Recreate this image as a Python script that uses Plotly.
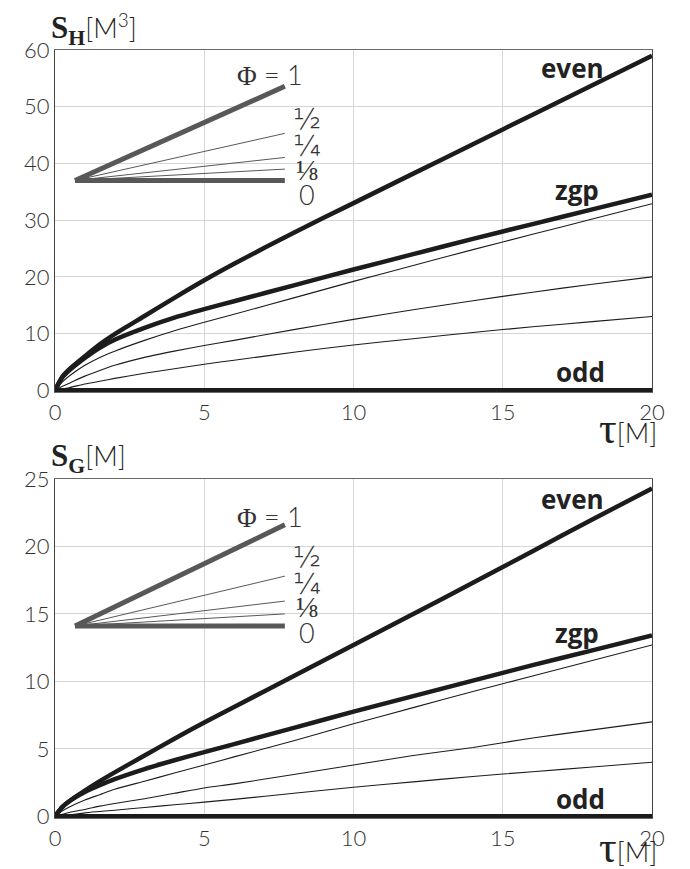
import plotly.graph_objects as go

# ---------------- data ----------------
tau = [0, 0.25, 0.5, 1, 1.5, 2, 3, 4, 5, 6, 8, 10, 12, 14, 16, 18, 20]

SH_even = [0, 2.4, 3.8, 6.0, 8.1, 9.9, 13.1, 16.3, 19.4, 22.3, 27.8, 33.0, 38.2, 43.4, 48.6, 53.8, 59.0]
SH_zgp = [0, 2.3, 3.6, 5.7, 7.5, 8.9, 11.0, 12.8, 14.3, 15.7, 18.5, 21.3, 24.0, 26.7, 29.3, 31.9, 34.5]
SH_half = [0, 1.5, 2.6, 4.4, 5.8, 6.9, 8.8, 10.5, 12.0, 13.4, 16.3, 19.2, 22.0, 24.8, 27.5, 30.2, 32.9]
SH_quarter = [0, 0.7, 1.3, 2.5, 3.5, 4.4, 5.8, 6.9, 7.9, 8.8, 10.7, 12.5, 14.2, 15.8, 17.3, 18.7, 20.0]
SH_eighth = [0, 0.25, 0.5, 1.1, 1.6, 2.1, 3.0, 3.8, 4.6, 5.3, 6.7, 8.0, 9.1, 10.2, 11.2, 12.1, 13.0]
SH_odd = [0, 0, 0, 0, 0, 0, 0, 0, 0, 0, 0, 0, 0, 0, 0, 0, 0]

SG_even = [0, 0.7, 1.15, 1.9, 2.6, 3.25, 4.5, 5.75, 6.95, 8.1, 10.4, 12.7, 15.0, 17.3, 19.65, 22.0, 24.3]
SG_zgp = [0, 0.7, 1.15, 1.8, 2.3, 2.75, 3.5, 4.15, 4.75, 5.35, 6.55, 7.75, 8.9, 10.05, 11.2, 12.3, 13.4]
SG_half = [0, 0.4, 0.7, 1.2, 1.6, 2.0, 2.6, 3.2, 3.8, 4.4, 5.6, 6.85, 8.05, 9.25, 10.4, 11.55, 12.7]
SG_quarter = [0, 0.15, 0.3, 0.5, 0.75, 0.95, 1.3, 1.7, 2.1, 2.4, 3.1, 3.8, 4.5, 5.1, 5.8, 6.4, 7.0]
SG_eighth = [0, 0.05, 0.1, 0.25, 0.35, 0.45, 0.65, 0.85, 1.05, 1.25, 1.7, 2.15, 2.55, 2.95, 3.3, 3.65, 4.0]
SG_odd = [0, 0, 0, 0, 0, 0, 0, 0, 0, 0, 0, 0, 0, 0, 0, 0, 0]

x_ticks = [0, 5, 10, 15, 20]
yH_ticks = [0, 10, 20, 30, 40, 50, 60]
yG_ticks = [0, 5, 10, 15, 20, 25]

# inset legend (Phi key)
phi_labels = ["<span style='font-family:Liberation Serif'>Φ</span> = 1", "½", "¼", "⅛", "0"]
phi_widths = [5, 1, 1, 1, 5]
key_x = [0.67, 7.7]
keyH_start = 37.0
keyH_end = [53.6, 45.3, 41.05, 39.0, 37.0]
keyH_label_x = [7.2, 8.45, 8.45, 8.45, 8.45]
keyH_label_y = [55.7, 47.8, 43.1, 38.9, 34.6]
keyG_start = 14.1
keyG_end = [21.6, 17.8, 15.95, 15.0, 14.1]
keyG_label_x = [7.2, 8.45, 8.45, 8.45, 8.45]
keyG_label_y = [22.2, 19.2, 17.2, 15.5, 13.6]

curve_labels = ["even", "zgp", "odd"]
labH_x = [17.35, 17.5, 17.6]
labH_y = [56.8, 35.3, 3.2]
labG_x = [17.35, 17.5, 17.6]
labG_y = [23.5, 13.6, 1.3]

# ---------------- figure ----------------
fig = go.Figure()
DARK = "#1c1c1c"
KEY = "#585858"


def line(x, y, w, color, xa, ya, shape="spline"):
    fig.add_trace(go.Scatter(x=x, y=y, mode="lines",
                             line=dict(width=w, color=color, shape=shape, smoothing=0.7),
                             xaxis=xa, yaxis=ya, showlegend=False, hoverinfo="skip"))


for xa, ya, thin, thick, odd, kstart, kend in [
    ("x", "y", [SH_half, SH_quarter, SH_eighth], [SH_zgp, SH_even], SH_odd, keyH_start, keyH_end),
    ("x2", "y2", [SG_half, SG_quarter, SG_eighth], [SG_zgp, SG_even], SG_odd, keyG_start, keyG_end),
]:
    for s in thin:
        line(tau, s, 1.1, DARK, xa, ya)
    for s in thick:
        line(tau, s, 4.5, DARK, xa, ya)
    line(tau, odd, 4.5, DARK, xa, ya, shape="linear")
    for e, w in zip(kend, phi_widths):
        line(key_x, [kstart, e], w, KEY, xa, ya, shape="linear")

ann = []
SANS = "Lato"
for xa, ya, lx, ly in [("x", "y", keyH_label_x, keyH_label_y), ("x2", "y2", keyG_label_x, keyG_label_y)]:
    for t, x, y in zip(phi_labels, lx, ly):
        if t in ("½", "¼", "⅛"):
            f = dict(family="DejaVu Sans", size=29, color="#333", weight=200)
        else:
            f = dict(family=SANS, size=27, color="#333", weight=300)
        ann.append(dict(x=x, y=y, xref=xa, yref=ya, text=t, showarrow=False, font=f))
for xa, ya, lx, ly in [("x", "y", labH_x, labH_y), ("x2", "y2", labG_x, labG_y)]:
    for t, x, y in zip(curve_labels, lx, ly):
        ann.append(dict(x=x, y=y, xref=xa, yref=ya, text=t, showarrow=False,
                        font=dict(family="Open Sans", size=26, color="#222", weight=700)))

# axis titles (pixel -> paper conversions)
L, R, T, B, W, H = 47, 46, 42, 59, 690, 869
pw, ph = W - L - R, H - T - B


def px(xp):
    return (xp - L) / pw


def py(yp):
    return (H - B - yp) / ph


serif = "Liberation Serif"
ann.append(dict(x=px(41), y=py(21), xref="paper", yref="paper", xanchor="left", yanchor="middle",
                showarrow=False,
                text=f"<span style='font-family:{serif};font-size:31px'><b>S</b><sub><b>H</b></sub></span>[M<sup>3</sup>]",
                font=dict(family=SANS, size=27, color="#222", weight=300)))
ann.append(dict(x=px(41), y=py(450), xref="paper", yref="paper", xanchor="left", yanchor="middle",
                showarrow=False,
                text=f"<span style='font-family:{serif};font-size:31px'><b>S</b><sub><b>G</b></sub></span>[M]",
                font=dict(family=SANS, size=27, color="#222", weight=300)))
for ybot in (446, 865):
    ann.append(dict(x=px(650), y=py(ybot), xref="paper", yref="paper", xanchor="right", yanchor="bottom",
                    showarrow=False, borderpad=0,
                    text=f"<span style='font-family:{serif};font-size:44px'>τ</span>[M]",
                    font=dict(family=SANS, size=27, color="#222", weight=300)))

tickfont = dict(family=SANS, size=22, color="#333", weight=300)
xcommon = dict(range=[0, 20], tickvals=x_ticks, showgrid=True, gridcolor="#d6d6d6", gridwidth=1,
               showline=True, mirror=True, linecolor="#6a6a6a", linewidth=1.3, zeroline=False,
               ticks="", tickfont=tickfont)
ycommon = dict(showgrid=True, gridcolor="#d6d6d6", gridwidth=1, showline=True, mirror=True,
               linecolor="#444", linewidth=1.3, zeroline=False, ticks="", tickfont=tickfont)

fig.update_layout(
    width=W, height=H, autosize=False,
    margin=dict(l=L, r=R, t=T, b=B),
    paper_bgcolor="white", plot_bgcolor="white",
    xaxis=dict(domain=[0, 1], anchor="y", **xcommon),
    yaxis=dict(domain=[py(384), 1], anchor="x", range=[-0.3, 60], tickvals=yH_ticks, **ycommon),
    xaxis2=dict(domain=[0, 1], anchor="y2", **xcommon),
    yaxis2=dict(domain=[0, py(471)], anchor="x2", range=[-0.13, 25], tickvals=yG_ticks, **ycommon),
    annotations=ann,
)

fig.write_html("out.html", config={"displayModeBar": False})
